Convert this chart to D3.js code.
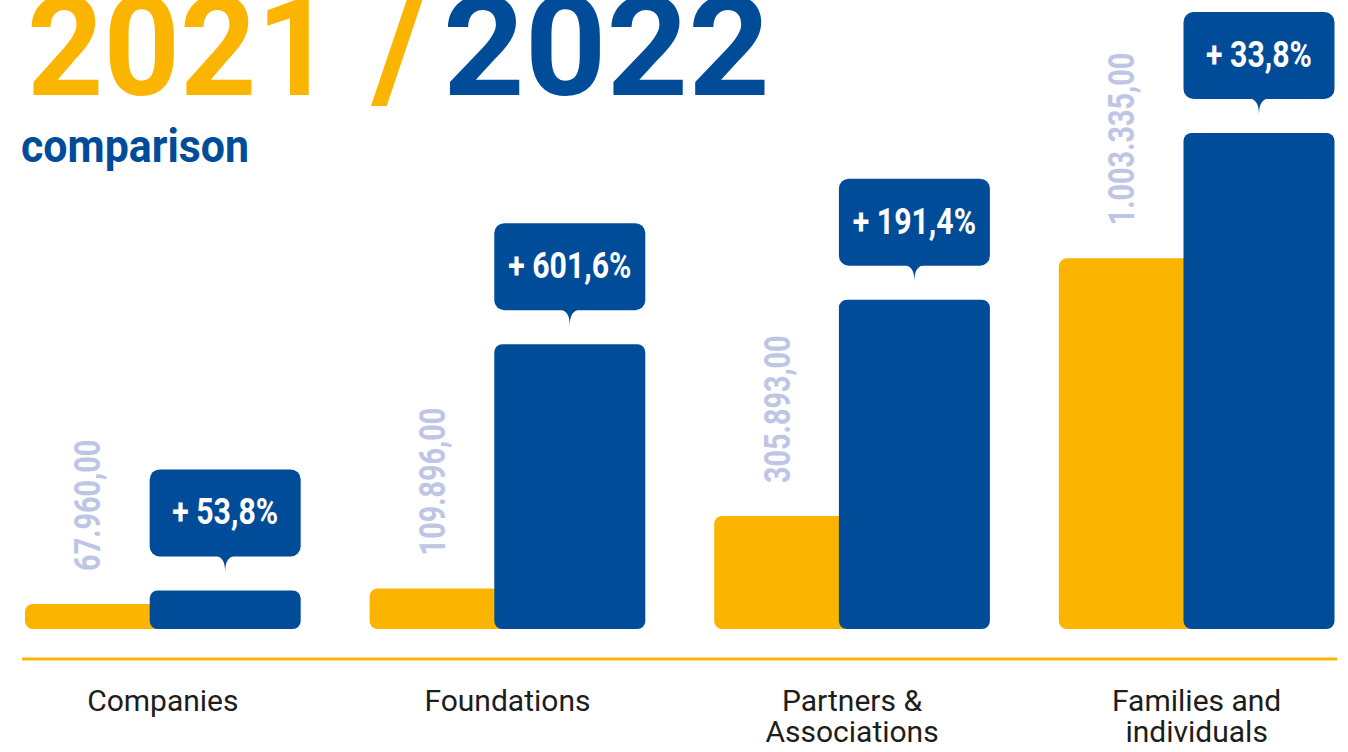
<!DOCTYPE html>
<html>
<head>
<meta charset="utf-8">
<script src="https://cdn.jsdelivr.net/npm/d3@7"></script>
<style>
  html, body { margin: 0; padding: 0; background: #fff; }
  svg { display: block; }
</style>
</head>
<body>
<svg id="chart"></svg>
<script>
const width = 1348, height = 752;

// data
const categories = ["Companies", "Foundations", "Partners & Associations", "Families and individuals"];
const labelLines = [["Companies"], ["Foundations"], ["Partners &", "Associations"], ["Families and", "individuals"]];
const values2021 = [67960, 109896, 305893, 1003335];
const values2022 = [104500, 771000, 891400, 1342500];
const changePct = [53.8, 601.6, 191.4, 33.8];

const yellow = "#FBB500", blue = "#004C99", lavender = "#BEC5E5";
const boldFont = "Roboto, 'Liberation Sans', sans-serif";

const svg = d3.select("#chart")
  .attr("width", width)
  .attr("height", height);

const itLocale = d3.formatLocale({decimal: ",", thousands: ".", grouping: [3], currency: ["", ""]});
const fmtValue = itLocale.format(",.2f");
const fmtPct = itLocale.format(",.1f");

// squeeze text horizontally to mimic the condensed face
function condense(sel, k) {
  sel.each(function() {
    const w = this.getComputedTextLength();
    d3.select(this).attr("textLength", w * k).attr("lengthAdjust", "spacingAndGlyphs");
  });
}

// title
const title = svg.append("text")
  .attr("y", 95)
  .style("font-family", boldFont)
  .style("font-weight", "bold")
  .style("font-size", "140px");
title.append("tspan").attr("x", 27).attr("textLength", 306).attr("lengthAdjust", "spacingAndGlyphs")
  .attr("fill", yellow).text("2021");
title.append("tspan").attr("x", 372).attr("y", 97)
  .style("font-size", "150px").attr("fill", yellow).text("/");
title.append("tspan").attr("x", 443).attr("y", 95).attr("textLength", 327).attr("lengthAdjust", "spacingAndGlyphs")
  .attr("fill", blue).text("2022");

svg.append("text")
  .attr("x", 21).attr("y", 162)
  .attr("fill", blue)
  .attr("textLength", 228).attr("lengthAdjust", "spacingAndGlyphs")
  .style("font-family", boldFont)
  .style("font-weight", "bold")
  .style("font-size", "47px")
  .text("comparison");

// scales
const x = d3.scaleBand()
  .domain(categories)
  .range([25, 1334.5])
  .paddingInner(0.2)
  .paddingOuter(0);

const y = d3.scaleLinear()
  .domain([0, 1342500])
  .range([629, 133]);

const barW = 151;
const blueX = d => x(d) + x.bandwidth() - barW;

const groups = svg.selectAll("g.group")
  .data(categories)
  .enter()
  .append("g")
  .attr("class", "group");

// 2021 bars (behind)
groups.append("rect")
  .attr("x", d => x(d))
  .attr("y", (d, i) => y(values2021[i]))
  .attr("width", barW)
  .attr("height", (d, i) => y(0) - y(values2021[i]))
  .attr("rx", 8)
  .attr("fill", yellow);

// 2022 bars
groups.append("rect")
  .attr("x", d => blueX(d))
  .attr("y", (d, i) => y(values2022[i]))
  .attr("width", barW)
  .attr("height", (d, i) => y(0) - y(values2022[i]))
  .attr("rx", 8)
  .attr("fill", blue);

// rotated 2021 values
groups.append("text")
  .attr("transform", (d, i) => `translate(${x(d) + (x.bandwidth() - barW) / 2},${y(values2021[i]) - 33}) rotate(-90)`)
  .attr("dy", "0.36em")
  .attr("fill", lavender)
  .style("font-family", boldFont)
  .style("font-weight", "bold")
  .style("font-size", "36px")
  .text((d, i) => fmtValue(values2021[i]))
  .call(condense, 0.8);

// callouts
groups.append("rect")
  .attr("x", d => blueX(d))
  .attr("y", (d, i) => y(values2022[i]) - 121)
  .attr("width", barW)
  .attr("height", 87)
  .attr("rx", 10)
  .attr("fill", blue);

groups.append("path")
  .attr("fill", blue)
  .attr("d", (d, i) => {
    const cx = blueX(d) + barW / 2, by = y(values2022[i]) - 34;
    return `M${cx - 11},${by - 1} C${cx - 3},${by} ${cx},${by + 5} ${cx},${by + 16} ` +
           `C${cx},${by + 5} ${cx + 3},${by} ${cx + 11},${by - 1} Z`;
  });

groups.append("text")
  .attr("x", d => blueX(d) + barW / 2)
  .attr("y", (d, i) => y(values2022[i]) - 121 + 55)
  .attr("text-anchor", "middle")
  .attr("fill", "#fff")
  .style("font-family", boldFont)
  .style("font-weight", "bold")
  .style("font-size", "36px")
  .text((d, i) => "+ " + fmtPct(changePct[i]) + "%")
  .call(condense, 0.84);

// baseline
svg.append("line")
  .attr("x1", 22).attr("x2", 1337)
  .attr("y1", 659).attr("y2", 659)
  .attr("stroke", yellow)
  .attr("stroke-width", 3);

// category labels
groups.each(function(d, i) {
  labelLines[i].forEach((t, j) => {
    d3.select(this).append("text")
      .attr("x", x(d) + x.bandwidth() / 2)
      .attr("y", 711 + j * 31)
      .attr("text-anchor", "middle")
      .attr("fill", "#1d1d1b")
      .style("font-family", "Roboto, 'DejaVu Sans', sans-serif")
      .style("font-size", "30px")
      .text(t);
  });
});
</script>
</body>
</html>
